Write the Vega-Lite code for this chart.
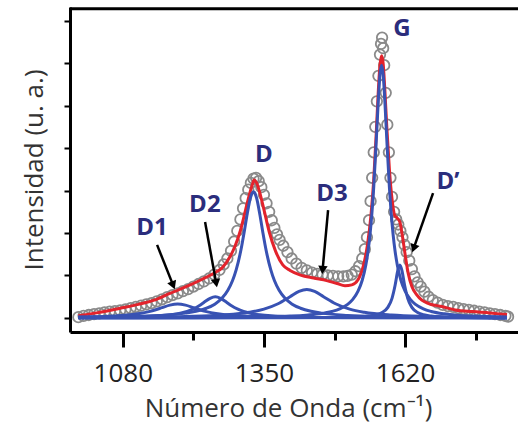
{
"$schema": "https://vega.github.io/schema/vega-lite/v6.json",
"width": 448, "height": 325,
"autosize": {"type": "none"},
"padding": {"left": 70, "top": 7, "right": 0, "bottom": 97},
"background": "white",
"config": {"view": {"stroke": null}, "font": "Open Sans"},
"datasets": {
"obs": [
{"x":995,"y":0.02},{"x":1005,"y":0.05},{"x":1015,"y":0.07},{"x":1025,"y":0.09},{"x":1035,"y":0.11},{"x":1045,"y":0.13},{"x":1055,"y":0.15},{"x":1065,"y":0.16},{"x":1075,"y":0.18},{"x":1085,"y":0.2},{"x":1095,"y":0.23},{"x":1105,"y":0.26},{"x":1115,"y":0.29},{"x":1125,"y":0.32},{"x":1135,"y":0.35},{"x":1145,"y":0.39},{"x":1155,"y":0.44},{"x":1165,"y":0.49},{"x":1175,"y":0.54},{"x":1185,"y":0.58},{"x":1195,"y":0.63},{"x":1205,"y":0.68},{"x":1215,"y":0.74},{"x":1225,"y":0.8},{"x":1235,"y":0.86},{"x":1245,"y":0.93},{"x":1255,"y":1.02},{"x":1265,"y":1.13},{"x":1273,"y":1.26},{"x":1280,"y":1.4},{"x":1287,"y":1.58},{"x":1293,"y":1.8},{"x":1299,"y":2.05},{"x":1305,"y":2.32},{"x":1310,"y":2.58},{"x":1315,"y":2.82},{"x":1320,"y":3.02},{"x":1325,"y":3.18},{"x":1330,"y":3.28},{"x":1335,"y":3.3},{"x":1340,"y":3.22},{"x":1345,"y":3.08},{"x":1350,"y":2.9},{"x":1355,"y":2.7},{"x":1360,"y":2.5},{"x":1365,"y":2.3},{"x":1370,"y":2.12},{"x":1375,"y":1.97},{"x":1380,"y":1.84},{"x":1387,"y":1.7},{"x":1395,"y":1.55},{"x":1403,"y":1.4},{"x":1412,"y":1.28},{"x":1422,"y":1.18},{"x":1432,"y":1.12},{"x":1442,"y":1.07},{"x":1452,"y":1.04},{"x":1462,"y":1.02},{"x":1472,"y":1.0},{"x":1482,"y":0.99},{"x":1492,"y":0.98},{"x":1502,"y":0.98},{"x":1510,"y":0.99},{"x":1518,"y":1.02},{"x":1525,"y":1.1},{"x":1532,"y":1.22},{"x":1538,"y":1.4},{"x":1543,"y":1.62},{"x":1547,"y":1.9},{"x":1551,"y":2.3},{"x":1554,"y":2.75},{"x":1557,"y":3.3},{"x":1560,"y":3.9},{"x":1563,"y":4.5},{"x":1566,"y":5.1},{"x":1569,"y":5.7},{"x":1572,"y":6.2},{"x":1574,"y":6.45},{"x":1576,"y":6.6},{"x":1578,"y":6.35},{"x":1580,"y":5.95},{"x":1583,"y":5.3},{"x":1586,"y":4.55},{"x":1589,"y":3.9},{"x":1592,"y":3.3},{"x":1595,"y":2.85},{"x":1599,"y":2.5},{"x":1603,"y":2.32},{"x":1607,"y":2.2},{"x":1611,"y":2.05},{"x":1615,"y":1.9},{"x":1619,"y":1.72},{"x":1623,"y":1.55},{"x":1628,"y":1.35},{"x":1633,"y":1.15},{"x":1638,"y":0.98},{"x":1644,"y":0.84},{"x":1650,"y":0.74},{"x":1657,"y":0.62},{"x":1665,"y":0.5},{"x":1673,"y":0.42},{"x":1682,"y":0.36},{"x":1692,"y":0.31},{"x":1702,"y":0.28},{"x":1712,"y":0.26},{"x":1722,"y":0.23},{"x":1732,"y":0.21},{"x":1742,"y":0.19},{"x":1752,"y":0.17},{"x":1762,"y":0.15},{"x":1772,"y":0.13},{"x":1782,"y":0.11},{"x":1792,"y":0.09},{"x":1802,"y":0.07},{"x":1812,"y":0.05},{"x":1817,"y":0.03}
],
"fit": [
{"x":995,"y":0.05},{"x":1030,"y":0.12},{"x":1075,"y":0.23},{"x":1110,"y":0.32},{"x":1140,"y":0.42},{"x":1170,"y":0.58},{"x":1200,"y":0.73},{"x":1230,"y":0.9},{"x":1255,"y":1.06},{"x":1270,"y":1.18},{"x":1285,"y":1.44},{"x":1295,"y":1.7},{"x":1305,"y":2.06},{"x":1315,"y":2.55},{"x":1322,"y":2.9},{"x":1328,"y":3.15},{"x":1331,"y":3.25},{"x":1336,"y":3.18},{"x":1342,"y":2.95},{"x":1350,"y":2.55},{"x":1360,"y":2.03},{"x":1372,"y":1.58},{"x":1386,"y":1.25},{"x":1400,"y":1.12},{"x":1420,"y":1.01},{"x":1445,"y":0.94},{"x":1470,"y":0.88},{"x":1490,"y":0.81},{"x":1505,"y":0.76},{"x":1518,"y":0.78},{"x":1530,"y":0.9},{"x":1540,"y":1.22},{"x":1548,"y":1.72},{"x":1555,"y":2.45},{"x":1560,"y":3.25},{"x":1565,"y":4.4},{"x":1569,"y":5.4},{"x":1572,"y":5.95},{"x":1575,"y":6.17},{"x":1578,"y":6.0},{"x":1581,"y":5.43},{"x":1585,"y":4.5},{"x":1590,"y":3.5},{"x":1595,"y":2.8},{"x":1600,"y":2.42},{"x":1605,"y":2.35},{"x":1610,"y":2.26},{"x":1615,"y":1.92},{"x":1620,"y":1.5},{"x":1626,"y":1.05},{"x":1633,"y":0.74},{"x":1642,"y":0.55},{"x":1652,"y":0.42},{"x":1665,"y":0.34},{"x":1690,"y":0.27},{"x":1716,"y":0.19},{"x":1750,"y":0.15},{"x":1782,"y":0.12},{"x":1815,"y":0.08}
],
"comps": [
{"c":"D1","x":995,"y":0.021},{"c":"D1","x":1020,"y":0.028},{"c":"D1","x":1045,"y":0.037},{"c":"D1","x":1070,"y":0.052},{"c":"D1","x":1095,"y":0.078},{"c":"D1","x":1112,"y":0.105},{"c":"D1","x":1130,"y":0.149},{"c":"D1","x":1143,"y":0.193},{"c":"D1","x":1155,"y":0.243},{"c":"D1","x":1170,"y":0.303},{"c":"D1","x":1185,"y":0.33},{"c":"D1","x":1200,"y":0.303},{"c":"D1","x":1215,"y":0.243},{"c":"D1","x":1227,"y":0.193},{"c":"D1","x":1240,"y":0.149},{"c":"D1","x":1258,"y":0.105},{"c":"D1","x":1275,"y":0.078},{"c":"D1","x":1300,"y":0.052},{"c":"D1","x":1325,"y":0.037},{"c":"D1","x":1350,"y":0.028},{"c":"D1","x":1400,"y":0.017},{"c":"D1","x":1500,"y":0.008},{"c":"D1","x":1650,"y":0.004},{"c":"D1","x":1815,"y":0.002},
{"c":"D2","x":995,"y":0.009},{"c":"D2","x":1080,"y":0.02},{"c":"D2","x":1150,"y":0.051},{"c":"D2","x":1172,"y":0.076},{"c":"D2","x":1190,"y":0.112},{"c":"D2","x":1203,"y":0.154},{"c":"D2","x":1215,"y":0.212},{"c":"D2","x":1226,"y":0.287},{"c":"D2","x":1235,"y":0.364},{"c":"D2","x":1247,"y":0.464},{"c":"D2","x":1257,"y":0.5},{"c":"D2","x":1267,"y":0.464},{"c":"D2","x":1279,"y":0.364},{"c":"D2","x":1288,"y":0.287},{"c":"D2","x":1299,"y":0.212},{"c":"D2","x":1311,"y":0.154},{"c":"D2","x":1324,"y":0.112},{"c":"D2","x":1342,"y":0.076},{"c":"D2","x":1364,"y":0.051},{"c":"D2","x":1434,"y":0.02},{"c":"D2","x":1520,"y":0.009},{"c":"D2","x":1650,"y":0.004},{"c":"D2","x":1815,"y":0.002},
{"c":"D","x":995,"y":0.018},{"c":"D","x":1080,"y":0.032},{"c":"D","x":1150,"y":0.061},{"c":"D","x":1200,"y":0.114},{"c":"D","x":1220,"y":0.157},{"c":"D","x":1240,"y":0.229},{"c":"D","x":1256,"y":0.326},{"c":"D","x":1270,"y":0.469},{"c":"D","x":1281,"y":0.653},{"c":"D","x":1290,"y":0.882},{"c":"D","x":1297,"y":1.138},{"c":"D","x":1304,"y":1.485},{"c":"D","x":1308,"y":1.731},{"c":"D","x":1312,"y":2.008},{"c":"D","x":1318,"y":2.449},{"c":"D","x":1324,"y":2.82},{"c":"D","x":1327,"y":2.93},{"c":"D","x":1330,"y":2.97},{"c":"D","x":1333,"y":2.93},{"c":"D","x":1336,"y":2.82},{"c":"D","x":1342,"y":2.449},{"c":"D","x":1348,"y":2.008},{"c":"D","x":1352,"y":1.731},{"c":"D","x":1356,"y":1.485},{"c":"D","x":1363,"y":1.138},{"c":"D","x":1370,"y":0.882},{"c":"D","x":1379,"y":0.653},{"c":"D","x":1390,"y":0.469},{"c":"D","x":1404,"y":0.326},{"c":"D","x":1420,"y":0.229},{"c":"D","x":1440,"y":0.157},{"c":"D","x":1460,"y":0.114},{"c":"D","x":1510,"y":0.061},{"c":"D","x":1580,"y":0.032},{"c":"D","x":1680,"y":0.016},{"c":"D","x":1815,"y":0.0085},
{"c":"D3","x":995,"y":0.0105},{"c":"D3","x":1100,"y":0.018},{"c":"D3","x":1200,"y":0.036},{"c":"D3","x":1270,"y":0.069},{"c":"D3","x":1322,"y":0.134},{"c":"D3","x":1350,"y":0.208},{"c":"D3","x":1377,"y":0.335},{"c":"D3","x":1400,"y":0.5},{"c":"D3","x":1417,"y":0.624},{"c":"D3","x":1432,"y":0.67},{"c":"D3","x":1447,"y":0.624},{"c":"D3","x":1464,"y":0.5},{"c":"D3","x":1487,"y":0.335},{"c":"D3","x":1514,"y":0.208},{"c":"D3","x":1542,"y":0.134},{"c":"D3","x":1594,"y":0.069},{"c":"D3","x":1664,"y":0.036},{"c":"D3","x":1764,"y":0.018},{"c":"D3","x":1815,"y":0.0135},
{"c":"G","x":995,"y":0.004},{"c":"G","x":1100,"y":0.0063},{"c":"G","x":1200,"y":0.01},{"c":"G","x":1280,"y":0.016},{"c":"G","x":1350,"y":0.028},{"c":"G","x":1400,"y":0.046},{"c":"G","x":1430,"y":0.067},{"c":"G","x":1455,"y":0.098},{"c":"G","x":1480,"y":0.154},{"c":"G","x":1495,"y":0.215},{"c":"G","x":1510,"y":0.32},{"c":"G","x":1520,"y":0.437},{"c":"G","x":1530,"y":0.631},{"c":"G","x":1538,"y":0.888},{"c":"G","x":1545,"y":1.253},{"c":"G","x":1549,"y":1.56},{"c":"G","x":1553,"y":1.973},{"c":"G","x":1560,"y":3.072},{"c":"G","x":1565,"y":4.202},{"c":"G","x":1569,"y":5.174},{"c":"G","x":1572,"y":5.735},{"c":"G","x":1575,"y":5.95},{"c":"G","x":1578,"y":5.735},{"c":"G","x":1581,"y":5.174},{"c":"G","x":1585,"y":4.202},{"c":"G","x":1590,"y":3.072},{"c":"G","x":1597,"y":1.973},{"c":"G","x":1601,"y":1.56},{"c":"G","x":1605,"y":1.253},{"c":"G","x":1612,"y":0.888},{"c":"G","x":1620,"y":0.631},{"c":"G","x":1630,"y":0.437},{"c":"G","x":1640,"y":0.32},{"c":"G","x":1655,"y":0.215},{"c":"G","x":1670,"y":0.154},{"c":"G","x":1695,"y":0.098},{"c":"G","x":1720,"y":0.067},{"c":"G","x":1750,"y":0.046},{"c":"G","x":1815,"y":0.025},
{"c":"Dp","x":995,"y":0},{"c":"Dp","x":1200,"y":0.001},{"c":"Dp","x":1400,"y":0.004},{"c":"Dp","x":1500,"y":0.0135},{"c":"Dp","x":1530,"y":0.025},{"c":"Dp","x":1550,"y":0.045},{"c":"Dp","x":1565,"y":0.077},{"c":"Dp","x":1575,"y":0.122},{"c":"Dp","x":1587,"y":0.25},{"c":"Dp","x":1595,"y":0.463},{"c":"Dp","x":1601,"y":0.775},{"c":"Dp","x":1606,"y":1.115},{"c":"Dp","x":1610,"y":1.25},{"c":"Dp","x":1614,"y":1.115},{"c":"Dp","x":1619,"y":0.775},{"c":"Dp","x":1625,"y":0.463},{"c":"Dp","x":1633,"y":0.25},{"c":"Dp","x":1645,"y":0.122},{"c":"Dp","x":1655,"y":0.077},{"c":"Dp","x":1670,"y":0.045},{"c":"Dp","x":1690,"y":0.025},{"c":"Dp","x":1720,"y":0.0135},{"c":"Dp","x":1815,"y":0.004}
],
"arrows": [
{"x1":1145.6,"y1":1.72,"x2":1176.4,"y2":0.767,"ang":158},
{"x1":1237.4,"y1":2.26,"x2":1258.7,"y2":0.82,"ang":170},
{"x1":1472.7,"y1":2.54,"x2":1462.2,"y2":1.13,"ang":185},
{"x1":1673.5,"y1":2.94,"x2":1636.4,"y2":1.64,"ang":199}
],
"labels": [
{"t":"D1","x":1136,"y":2.12},
{"t":"D2","x":1237,"y":2.66},
{"t":"D","x":1350,"y":3.84},
{"t":"D3","x":1480,"y":2.92},
{"t":"G","x":1614,"y":6.8},
{"t":"D’","x":1702,"y":3.2}
]
},
"layer": [
{"data": {"name": "obs"},
 "mark": {"type": "point", "shape": "circle", "filled": false, "size": 110, "stroke": "#8a8a8a", "strokeWidth": 1.8, "opacity": 1},
 "encoding": {
  "x": {"field": "x", "type": "quantitative", "scale": {"domain": [979, 1836], "nice": false, "zero": false},
   "axis": {"values": [1080, 1215, 1350, 1485, 1620, 1755], "format": "d",
    "labelExpr": "datum.value % 270 == 0 ? datum.label : ''",
    "title": "Número de Onda (cm⁻¹)", "grid": false,
    "domainColor": "black", "domainWidth": 3, "tickColor": "black", "tickWidth": 3,
    "tickSize": {"condition": {"test": "datum.value % 270 != 0", "value": 8}, "value": 15},
    "labelFontSize": 26, "labelColor": "#222222", "labelPadding": 13, "labelFont": "Open Sans",
    "labelFlush": false, "labelOverlap": false, "labelBound": false,
    "titleFont": "Open Sans", "titleFontSize": 26, "titleFontWeight": "normal", "titleColor": "#333333",
    "titlePadding": 9, "titleX": 218}},
  "y": {"field": "y", "type": "quantitative", "scale": {"domain": [-0.33, 7.32], "nice": false, "zero": false},
   "axis": {"values": [0, 1, 2, 3, 4, 5, 6, 7], "labels": false, "tickSize": 6, "tickWidth": 2, "tickColor": "black",
    "domainColor": "black", "domainWidth": 3, "grid": false,
    "title": "Intensidad (u. a.)", "titleFont": "Open Sans", "titleFontSize": 26, "titleFontWeight": "normal",
    "titleColor": "#333333", "titlePadding": 16}}
 }},
{"data": {"values": [{"k": 1}]},
 "mark": {"type": "rule", "color": "black", "strokeWidth": 3},
 "encoding": {"y": {"datum": 7.28}}},
{"data": {"name": "fit"},
 "mark": {"type": "line", "color": "#e3232c", "strokeWidth": 3, "interpolate": "monotone"},
 "encoding": {"x": {"field": "x", "type": "quantitative"}, "y": {"field": "y", "type": "quantitative"}}},
{"data": {"name": "comps"},
 "mark": {"type": "line", "color": "#3852b3", "strokeWidth": 3, "interpolate": "monotone"},
 "encoding": {"x": {"field": "x", "type": "quantitative"}, "y": {"field": "y", "type": "quantitative"}, "detail": {"field": "c"}}},
{"data": {"name": "arrows"},
 "mark": {"type": "rule", "color": "black", "strokeWidth": 2.5},
 "encoding": {"x": {"field": "x1", "type": "quantitative"}, "y": {"field": "y1", "type": "quantitative"},
  "x2": {"field": "x2"}, "y2": {"field": "y2"}}},
{"data": {"name": "arrows"},
 "mark": {"type": "point", "shape": "triangle-up", "filled": true, "color": "black", "size": 90, "opacity": 1},
 "encoding": {"x": {"field": "x2", "type": "quantitative"}, "y": {"field": "y2", "type": "quantitative"},
  "angle": {"field": "ang", "type": "quantitative", "scale": null}}},
{"data": {"name": "labels"},
 "mark": {"type": "text", "font": "Open Sans", "fontSize": 24, "fontWeight": "bold", "color": "#2b2d7c", "align": "center", "baseline": "middle"},
 "encoding": {"x": {"field": "x", "type": "quantitative"}, "y": {"field": "y", "type": "quantitative"}, "text": {"field": "t"}}}
]
}
